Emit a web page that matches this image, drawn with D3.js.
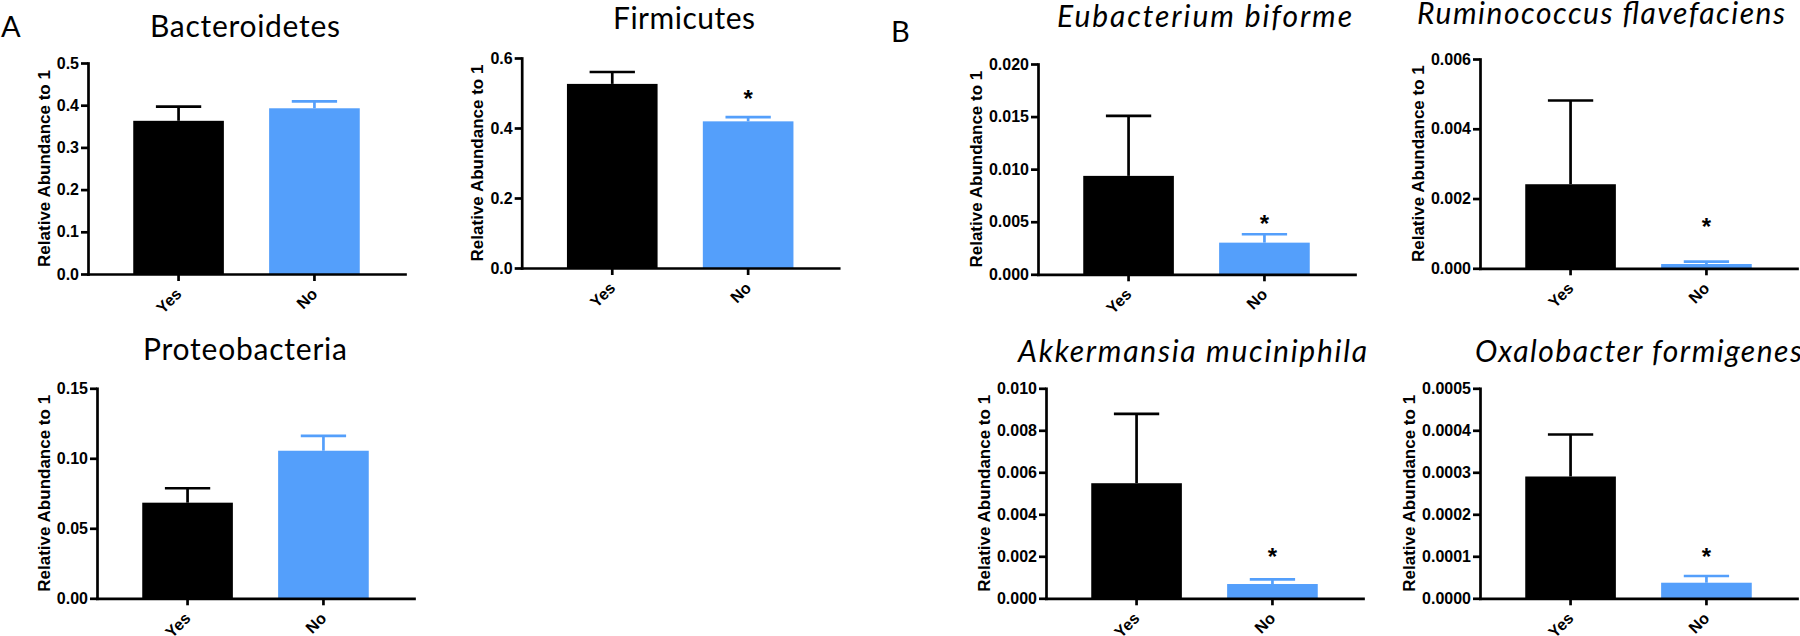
<!DOCTYPE html>
<html><head><meta charset="utf-8">
<script src="https://cdn.jsdelivr.net/npm/d3@7"></script>
<style>
body{margin:0;background:#fff}
svg{display:block}
.tick text{font-family:"Liberation Sans",Arial,sans-serif;font-weight:bold;font-size:16px;fill:#000}
</style>
</head><body>
<svg id="chart" width="1800" height="636"></svg>
<script>
// ---------------- data ----------------
const groups = ["Yes", "No"];
const panelTitles = ["Bacteroidetes", "Firmicutes", "Proteobacteria",
  "Eubacterium biforme", "Ruminococcus flavefaciens", "Akkermansia muciniphila", "Oxalobacter formigenes"];
const italicTitle = [false, false, false, true, true, true, true];
const meanYes = [0.363, 0.526, 0.0683, 0.00936, 0.00241, 0.00548, 0.00029];
const semYes  = [0.0335, 0.034, 0.0103, 0.0057, 0.0024, 0.0033, 0.0001];
const meanNo  = [0.3927, 0.419, 0.1054, 0.00301, 0.000123, 0.00068, 0.0000371];
const semNo   = [0.0165, 0.012, 0.0106, 0.0008, 0.00007, 0.00022, 0.000016];
const yMax    = [0.5, 0.6, 0.15, 0.020, 0.006, 0.010, 0.0005];
const tickLabels = [
  ["0.0","0.1","0.2","0.3","0.4","0.5"],
  ["0.0","0.2","0.4","0.6"],
  ["0.00","0.05","0.10","0.15"],
  ["0.000","0.005","0.010","0.015","0.020"],
  ["0.000","0.002","0.004","0.006"],
  ["0.000","0.002","0.004","0.006","0.008","0.010"],
  ["0.0000","0.0001","0.0002","0.0003","0.0004","0.0005"]
];
const starNo = [null, 0.494, null, 0.00517, 0.0013, 0.00216, 0.000108]; // significance mark height
const yAxisTitle = "Relative Abundance to 1";
const panelLetters = ["A", "B"];

// ---------------- layout ----------------
const layout = [
  {ax: 88,    top: 63,    bottom: 274,   tx: 150,  ty: 37,  tw: 190},
  {ax: 521.7, top: 58,    bottom: 268,   tx: 613,  ty: 29,  tw: 142},
  {ax: 97,    top: 388.3, bottom: 598.3, tx: 143,  ty: 360, tw: 204},
  {ax: 1038,  top: 64,    bottom: 274.3, tx: 1057, ty: 27,  tw: 295},
  {ax: 1480,  top: 59,    bottom: 268.3, tx: 1417, ty: 24,  tw: 368},
  {ax: 1046,  top: 388.3, bottom: 598.3, tx: 1018, ty: 362, tw: 349},
  {ax: 1480,  top: 388.3, bottom: 598.3, tx: 1475, ty: 362, tw: 327}
];
const letterPos = [{x: 1, y: 37}, {x: 891, y: 42}];
const plotW = 317;
const colors = {Yes: "#000000", No: "#549ffb"};
const lw = 2.7;
const titleFont = "Lato, 'Open Sans', sans-serif";

const svg = d3.select("#chart");

panelLetters.forEach((L, i) => {
  svg.append("text").attr("x", letterPos[i].x).attr("y", letterPos[i].y)
    .attr("font-family", titleFont).attr("font-size", 29).attr("fill", "#000").text(L);
});

panelTitles.forEach((title, i) => {
  const L = layout[i];
  const g = svg.append("g");
  const x = d3.scaleBand().domain(groups).range([L.ax, L.ax + plotW]).paddingInner(0.333).paddingOuter(0.333);
  const y = d3.scaleLinear().domain([0, yMax[i]]).range([L.bottom, L.top]);
  const bw = x.bandwidth();
  const rows = [
    {g: "Yes", m: meanYes[i], s: semYes[i]},
    {g: "No",  m: meanNo[i],  s: semNo[i]}
  ];

  // bars
  g.selectAll("rect.bar").data(rows).join("rect").attr("class", "bar")
    .attr("x", d => x(d.g)).attr("width", bw)
    .attr("y", d => y(d.m)).attr("height", d => L.bottom - y(d.m))
    .attr("fill", d => colors[d.g]);

  // error bars (upper only)
  g.selectAll("line.err").data(rows).join("line").attr("class", "err")
    .attr("x1", d => x(d.g) + bw / 2).attr("x2", d => x(d.g) + bw / 2)
    .attr("y1", d => y(d.m)).attr("y2", d => y(d.m + d.s))
    .attr("stroke", d => colors[d.g]).attr("stroke-width", lw);
  g.selectAll("line.cap").data(rows).join("line").attr("class", "cap")
    .attr("x1", d => x(d.g) + bw / 4).attr("x2", d => x(d.g) + bw * 3 / 4)
    .attr("y1", d => y(d.m + d.s)).attr("y2", d => y(d.m + d.s))
    .attr("stroke", d => colors[d.g]).attr("stroke-width", lw);

  // y axis
  const tv = tickLabels[i].map(Number);
  const yAx = g.append("g").attr("transform", `translate(${L.ax},0)`)
    .call(d3.axisLeft(y).tickValues(tv).tickFormat((d, k) => tickLabels[i][k]).tickSize(7).tickSizeOuter(0).tickPadding(2));
  yAx.select(".domain").attr("stroke", "#000").attr("stroke-width", lw).attr("stroke-linecap", "square");
  yAx.selectAll(".tick line").attr("stroke", "#000").attr("stroke-width", lw);

  // x axis
  const xAx = g.append("g").attr("transform", `translate(0,${L.bottom})`)
    .call(d3.axisBottom(x).tickSize(7).tickSizeOuter(0));
  xAx.select(".domain").attr("stroke", "#000").attr("stroke-width", lw).attr("stroke-linecap", "square");
  xAx.selectAll(".tick line").attr("stroke", "#000").attr("stroke-width", lw);
  xAx.selectAll(".tick text").attr("x", 0).attr("y", 0).attr("dy", 0)
    .attr("text-anchor", "end").attr("transform", "translate(4,21) rotate(-45)");

  // y axis title
  let maxW = 0;
  yAx.selectAll(".tick text").each(function () { maxW = Math.max(maxW, this.getComputedTextLength()); });
  const cx = L.ax - 9 - maxW - 13 + 6;
  const cy = (L.top + L.bottom) / 2;
  g.append("text").attr("transform", `translate(${cx},${cy}) rotate(-90)`)
    .attr("text-anchor", "middle")
    .attr("font-family", "'Liberation Sans', Arial, sans-serif").attr("font-weight", "bold")
    .attr("font-size", 17).attr("fill", "#000").text(yAxisTitle);

  // star
  if (starNo[i] !== null) {
    g.append("text").attr("x", x("No") + bw / 2).attr("y", y(starNo[i]) + 12)
      .attr("text-anchor", "middle").attr("font-family", "'Liberation Sans', Arial, sans-serif")
      .attr("font-weight", "bold").attr("font-size", 24).attr("fill", "#000").text("*");
  }

  // title
  svg.append("text").attr("x", L.tx).attr("y", L.ty)
    .attr("font-family", titleFont).attr("font-size", 30)
    .attr("font-style", italicTitle[i] ? "italic" : "normal")
    .attr("fill", "#000")
    .attr("textLength", L.tw).attr("lengthAdjust", "spacing")
    .text(title);
});
</script>
</body></html>
